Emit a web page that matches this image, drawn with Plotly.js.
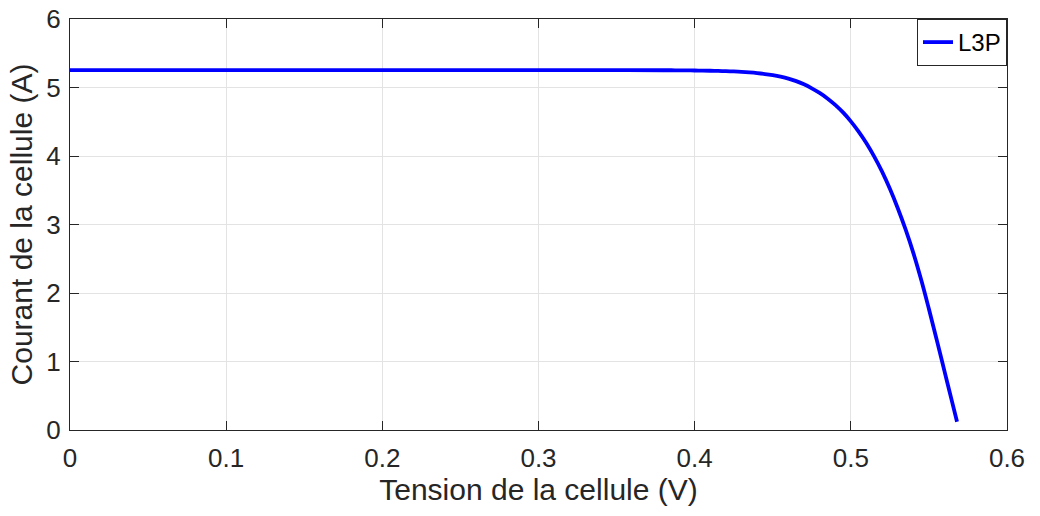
<!DOCTYPE html>
<html>
<head>
<meta charset="utf-8">
<script src="https://cdn.plot.ly/plotly-3.0.1.min.js"></script>
<style>
  html, body { margin: 0; padding: 0; background: #ffffff; }
  #chart { width: 1040px; height: 516px; }
</style>
</head>
<body>
<div id="chart"></div>
<script>
// I-V characteristic of the solar cell (voltage in V, current in A)
const voltage = [0, 0.05, 0.10, 0.15, 0.20, 0.25, 0.30, 0.35, 0.38, 0.385, 0.39, 0.395,
                 0.40, 0.405, 0.41, 0.415, 0.42, 0.425, 0.43, 0.435,
                 0.44, 0.445, 0.45, 0.455, 0.46, 0.465, 0.47, 0.475, 0.48, 0.485, 0.49,
                 0.495, 0.50, 0.505, 0.51, 0.515, 0.52, 0.525, 0.53, 0.535, 0.54, 0.545,
                 0.55, 0.555, 0.56, 0.565, 0.568];
const current = [5.255, 5.255, 5.255, 5.255, 5.255, 5.255, 5.2545, 5.2535, 5.252, 5.2515, 5.2507, 5.2498,
                 5.2485, 5.2469, 5.2448, 5.2421, 5.2386, 5.234, 5.228, 5.220,
                 5.210, 5.197, 5.180, 5.158, 5.130, 5.093, 5.046, 4.988, 4.921, 4.841, 4.746,
                 4.636, 4.506, 4.356, 4.186, 3.991, 3.771, 3.521, 3.241, 2.931, 2.586, 2.196,
                 1.766, 1.316, 0.856, 0.396, 0.120];
const seriesName = 'L3P';

const xTicks = [0, 0.1, 0.2, 0.3, 0.4, 0.5, 0.6];
const xTickText = ['0', '0.1', '0.2', '0.3', '0.4', '0.5', '0.6'];
const yTicks = [0, 1, 2, 3, 4, 5, 6];

const ink = '#262626';
const fontFamily = '"Liberation Sans", Arial, Helvetica, sans-serif';

const trace = {
  x: voltage,
  y: current,
  type: 'scatter',
  mode: 'lines',
  name: seriesName,
  line: { color: '#0000ff', width: 3.8, shape: 'spline', smoothing: 1 }
};

const axisCommon = {
  showline: true,
  linecolor: ink,
  linewidth: 1,
  mirror: 'ticks',
  ticks: 'inside',
  ticklen: 9,
  tickwidth: 1,
  tickcolor: ink,
  showgrid: true,
  gridcolor: '#e3e3e3',
  gridwidth: 1,
  zeroline: false,
  tickfont: { family: fontFamily, size: 26, color: ink }
};

const layout = {
  width: 1040,
  height: 516,
  margin: { l: 70, r: 33, t: 19, b: 86 },
  paper_bgcolor: '#ffffff',
  plot_bgcolor: '#ffffff',
  showlegend: true,
  font: { family: fontFamily, color: ink },
  xaxis: Object.assign({}, axisCommon, {
    range: [0, 0.6],
    tickvals: xTicks,
    ticktext: xTickText,
    ticklabelstandoff: 5,
    title: { text: 'Tension de la cellule (V)', font: { family: fontFamily, size: 30, color: ink }, standoff: 6 }
  }),
  yaxis: Object.assign({}, axisCommon, {
    range: [0, 6],
    tickvals: yTicks,
    ticklabelstandoff: 3,
    title: { text: 'Courant de la cellule (A)', font: { family: fontFamily, size: 30, color: ink }, standoff: 4 }
  }),
  legend: {
    x: 1, y: 1, xanchor: 'right', yanchor: 'top',
    bgcolor: '#ffffff',
    bordercolor: ink,
    borderwidth: 1,
    font: { family: fontFamily, size: 24, color: '#000000' },
    itemwidth: 30
  }
};

Plotly.newPlot('chart', [trace], layout, { staticPlot: true, displayModeBar: false });
</script>
</body>
</html>
